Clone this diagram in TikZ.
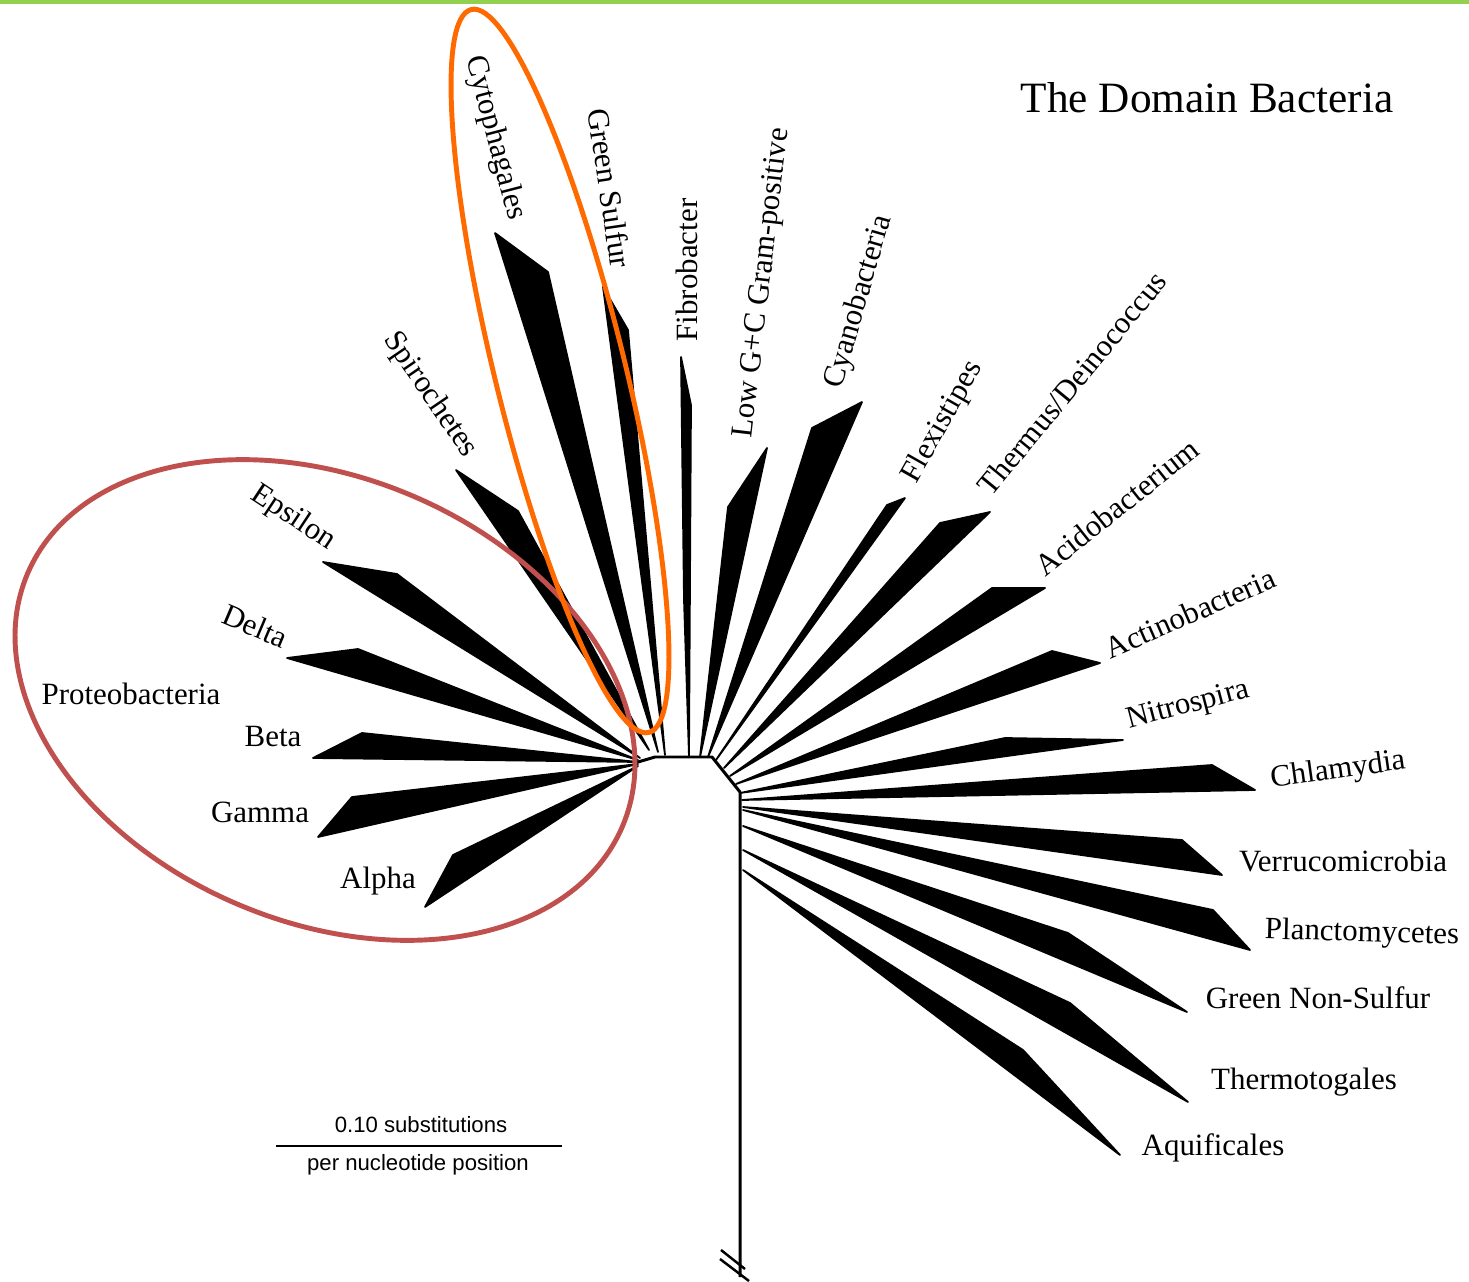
\documentclass[tikz,border=0pt]{standalone}
\usepackage{fontspec}
\setmainfont{Liberation Serif}
\newfontfamily\barfont{Liberation Sans}
\begin{document}
\begin{tikzpicture}[x=0.01cm,y=-0.01cm,
  lab/.style={font=\fontsize{8.8}{10}\selectfont, inner sep=0pt},
  wedgefill/.style={fill=black,draw=black,line width=0.5pt,line join=round},
  hub/.style={draw=black,line width=0.85pt,line join=round},
  redell/.style={draw={rgb,255:red,192;green,80;blue,77},line width=1.4pt},
  orangeell/.style={draw={rgb,255:red,255;green,106;blue,0},line width=1.4pt},
  barlab/.style={font=\barfont\fontsize{6.3}{7}\selectfont, inner sep=0pt}]
\useasboundingbox (0,0) rectangle (1469,1282);
\fill[fill={rgb,255:red,146;green,208;blue,80}] (0,0) rectangle (1469,4);

% hub
\draw[hub] (638,762) -- (655,757) -- (712,757) -- (740,792) -- (740,1277);
\draw[hub,line width=0.7pt] (721,1250) -- (745,1269);
\draw[hub,line width=0.7pt] (720,1259) -- (749,1281);

% wedges: tip, shoulder, base
\fill[wedgefill] (425,907) -- (453,855) -- (638,766) -- cycle; % Alpha
\fill[wedgefill] (318,837) -- (352,797) -- (638,764) -- cycle; % Gamma
\fill[wedgefill] (313,758) -- (362,733) -- (638,762) -- cycle; % Beta
\fill[wedgefill] (287,658) -- (358,649) -- (638,760) -- cycle; % Delta
\fill[wedgefill] (323,562) -- (397,574) -- (640,758) -- cycle; % Epsilon
\fill[wedgefill] (456,470) -- (518,511) -- (649,750) -- cycle; % Spirochetes
\fill[wedgefill] (495,233) -- (548,272) -- (658,752) -- cycle; % Cytophagales
\fill[wedgefill] (603,287) -- (628,330) -- (665,755) -- cycle; % Green Sulfur
\fill[wedgefill] (681,357) -- (691,405) -- (689,757) -- (684,600) -- cycle; % Fibrobacter
\fill[wedgefill] (767,448) -- (728,507) -- (700,757) -- cycle; % Low G+C
\fill[wedgefill] (862,402) -- (812,428) -- (708,757) -- cycle; % Cyanobacteria
\fill[wedgefill] (905,498) -- (887,505) -- (716,760) -- cycle; % Flexistipes
\fill[wedgefill] (990,512) -- (940,523) -- (724,768) -- cycle; % Thermus
\fill[wedgefill] (1045,588) -- (992,588) -- (730,776) -- cycle; % Acidobacterium
\fill[wedgefill] (1100,663) -- (1052,651) -- (736,784) -- cycle; % Actinobacteria
\fill[wedgefill] (1123,740) -- (1005,738) -- (740,793) -- cycle; % Nitrospira
\fill[wedgefill] (1255,790) -- (1212,765) -- (742,800) -- cycle; % Chlamydia
\fill[wedgefill] (1222,875) -- (1182,840) -- (743,807) -- cycle; % Verrucomicrobia
\fill[wedgefill] (1250,950) -- (1213,910) -- (743,810) -- cycle; % Planctomycetes
\fill[wedgefill] (1187,1012) -- (1068,933) -- (743,826) -- cycle; % Green Non-Sulfur
\fill[wedgefill] (1188,1102) -- (1070,1003) -- (743,850) -- cycle; % Thermotogales
\fill[wedgefill] (1120,1155) -- (1023,1050) -- (743,870) -- cycle; % Aquificales

% ellipses
\draw[redell, rotate around={-23:(325,700)}] (325,700) ellipse [x radius=3.23cm, y radius=2.22cm];
\draw[orangeell, rotate around={-76.2:(560,371)}] (560,371) ellipse [x radius=3.72cm, y radius=0.65cm];

% labels
\node[font=\fontsize{12.3}{14}\selectfont, inner sep=0pt] (title) at (1207,98) {The Domain Bacteria};
\node[lab, rotate=-75.4] (cyto) at (495,138) {Cytophagales};
\node[lab, rotate=-81.6] (gsulf) at (610,188) {Green Sulfur};
\node[lab, rotate=90] (fibro) at (687,270) {Fibrobacter};
\node[lab, rotate=83.3] (lowgc) at (763,283) {Low G+C Gram-positive};
\node[lab, rotate=73.9] (cyano) at (859,302) {Cyanobacteria};
\node[lab, rotate=60.5] (flexi) at (943,422) {Flexistipes};
\node[lab, rotate=50.6] (thermus) at (1072,383) {Thermus/Deinococcus};
\node[lab, rotate=38.5] (acido) at (1117,507) {Acidobacterium};
\node[lab, rotate=23.6] (actino) at (1190,613) {Actinobacteria};
\node[lab, rotate=14.7] (nitro) at (1188,706) {Nitrospira};
\node[lab, rotate=8] (chlam) at (1338,771) {Chlamydia};
\node[lab] (verru) at (1343,861) {Verrucomicrobia};
\node[lab, rotate=-1.5] (planc) at (1362,934) {Planctomycetes};
\node[lab] (gns) at (1318,998) {Green Non-Sulfur};
\node[lab] (thermo) at (1304,1082) {Thermotogales};
\node[lab] (aqui) at (1213,1148) {Aquificales};
\node[lab, rotate=-55.7] (spiro) at (430,395) {Spirochetes};
\node[lab, rotate=-33.5] (eps) at (293,518) {Epsilon};
\node[lab, rotate=-23] (delta) at (255,626) {Delta};
\node[lab] (proteo) at (131,694) {Proteobacteria};
\node[lab] (beta) at (273,737) {Beta};
\node[lab] (gamma) at (260,812) {Gamma};
\node[lab] (alpha) at (378,881) {Alpha};

% scale bar
\coordinate (barL) at (276,1146);
\coordinate (barR) at (562,1146);
\draw[line width=0.6pt] (barL) -- (barR);
\node[barlab] (bar1) at (421,1125) {0.10 substitutions};
\node[barlab] (bar2) at (418,1165) {per nucleotide position};
\end{tikzpicture}
\end{document}
